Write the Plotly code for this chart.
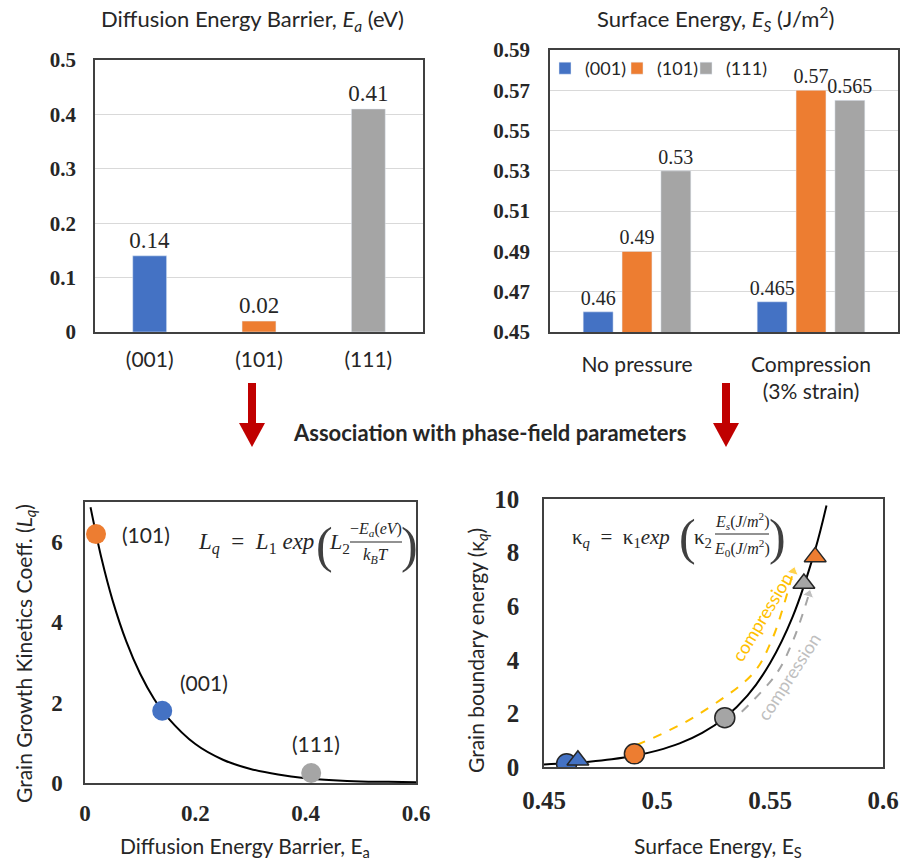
import plotly.graph_objects as go

W, H = 903, 866
def px(x): return x / W
def py(y): return 1 - y / H

SANS = "Lato"
SERIF = "Liberation Serif"
INK = "#262626"

# ---------------- data ----------------
facets = ["(001)", "(101)", "(111)"]
facet_colors = ["#4472C4", "#ED7D31", "#A5A5A5"]

# top-left: diffusion energy barrier (eV)
ea_values = [0.14, 0.02, 0.41]
ea_labels = ["0.14", "0.02", "0.41"]
ea_tickvals = [0, 0.1, 0.2, 0.3, 0.4, 0.5]
ea_ticktext = ["0", "0.1", "0.2", "0.3", "0.4", "0.5"]

# top-right: surface energy (J/m2)
conditions = ["No pressure", "Compression<br>(3% strain)"]
es_001 = [0.46, 0.465]
es_101 = [0.49, 0.57]
es_111 = [0.53, 0.565]
es_lab_001 = ["0.46", "0.465"]
es_lab_101 = ["0.49", "0.57"]
es_lab_111 = ["0.53", "0.565"]
es_tickvals = [0.45, 0.47, 0.49, 0.51, 0.53, 0.55, 0.57, 0.59]
es_ticktext = ["0.45", "0.47", "0.49", "0.51", "0.53", "0.55", "0.57", "0.59"]

# bottom-left: grain growth kinetics coefficient vs Ea
lq_points = [1.8, 6.2, 0.25]          # facet order (001),(101),(111)
lq_curve_ea = [0.01, 0.03, 0.05, 0.075, 0.1, 0.125, 0.15, 0.2, 0.25, 0.3,
               0.35, 0.4, 0.45, 0.5, 0.55, 0.6]
lq_curve_val = [6.87, 5.59, 4.55, 3.52, 2.72, 2.10, 1.63, 0.97, 0.58, 0.35,
                0.21, 0.12, 0.07, 0.04, 0.03, 0.02]
lq_tickvals = [0, 2, 4, 6]
lq_ticktext = ["0", "2", "4", "6"]
lqx_tickvals = [0, 0.2, 0.4, 0.6]
lqx_ticktext = ["0", "0.2", "0.4", "0.6"]

# bottom-right: grain boundary energy vs Es
kq_nopress = [0.12, 0.49, 1.84]       # circles, facet order
kq_comp = [0.25, 7.84, 6.85]          # triangles, facet order
kq_curve_es = [0.45, 0.46, 0.47, 0.48, 0.49, 0.50, 0.51, 0.52, 0.53, 0.54,
               0.55, 0.56, 0.57, 0.575]
kq_curve_val = [0.095, 0.138, 0.20, 0.29, 0.42, 0.61, 0.88, 1.27, 1.84, 2.66,
                3.87, 5.60, 8.11, 9.76]
comp101_es = [0.491, 0.505, 0.519, 0.5426, 0.5508, 0.5559, 0.5603]
comp101_kq = [0.82, 1.35, 2.0, 3.50, 4.74, 5.98, 7.30]
comp111_es = [0.5375, 0.553, 0.5603, 0.5655, 0.5672]
comp111_kq = [2.06, 3.50, 4.74, 5.98, 6.45]
kqx_tickvals = [0.45, 0.5, 0.55, 0.6]
kqx_ticktext = ["0.45", "0.5", "0.55", "0.6"]
kq_tickvals = [0, 2, 4, 6, 8, 10]
kq_ticktext = ["0", "2", "4", "6", "8", "10"]

# ---------------- figure ----------------
fig = go.Figure()

# top-left bars
fig.add_trace(go.Bar(x=facets, y=ea_values, text=ea_labels, textposition="outside",
                     constraintext="none",
                     marker=dict(color=facet_colors), width=0.31, showlegend=False,
                     textfont=dict(family=SERIF, size=23, color=INK), cliponaxis=False,
                     xaxis="x", yaxis="y"))

# top-right grouped bars, each with its own small legend box
legend_names = ["legend", "legend2", "legend3"]
for name, vals, labs, col, lg in zip(facets, [es_001, es_101, es_111],
                                     [es_lab_001, es_lab_101, es_lab_111], facet_colors,
                                     legend_names):
    fig.add_trace(go.Bar(x=conditions, y=vals, text=labs, textposition="outside", name=name,
                         constraintext="none", legend=lg,
                         marker=dict(color=col), cliponaxis=False,
                         textfont=dict(family=SERIF, size=20, color=INK),
                         xaxis="x2", yaxis="y2"))

# bottom-left
fig.add_trace(go.Scatter(x=lq_curve_ea, y=lq_curve_val, mode="lines",
                         line=dict(color="black", width=2, shape="spline"),
                         showlegend=False, xaxis="x3", yaxis="y3"))
fig.add_trace(go.Scatter(x=ea_values, y=lq_points, mode="markers",
                         marker=dict(color=facet_colors, size=20), showlegend=False,
                         xaxis="x3", yaxis="y3"))

# bottom-right
fig.add_trace(go.Scatter(x=comp101_es, y=comp101_kq, mode="lines+markers",
                         line=dict(color="#FFC000", width=2, dash="dash", shape="spline"),
                         marker=dict(symbol="triangle-up", angleref="previous", color="#FFC000",
                                     size=[0, 0, 0, 0, 0, 0, 10]),
                         showlegend=False, xaxis="x4", yaxis="y4"))
fig.add_trace(go.Scatter(x=comp111_es, y=comp111_kq, mode="lines+markers",
                         line=dict(color="#A5A5A5", width=2, dash="dash", shape="spline"),
                         marker=dict(symbol="triangle-up", angleref="previous", color="#A5A5A5",
                                     size=[0, 0, 0, 0, 10]),
                         showlegend=False, xaxis="x4", yaxis="y4"))
fig.add_trace(go.Scatter(x=kq_curve_es, y=kq_curve_val, mode="lines",
                         line=dict(color="black", width=2, shape="spline"),
                         showlegend=False, xaxis="x4", yaxis="y4"))
fig.add_trace(go.Scatter(x=[es_001[0], es_101[0], es_111[0]], y=kq_nopress, mode="markers",
                         marker=dict(color=facet_colors, size=20, line=dict(color=INK, width=1.5)),
                         showlegend=False, xaxis="x4", yaxis="y4"))
fig.add_trace(go.Scatter(x=[es_001[1], es_101[1], es_111[1]], y=kq_comp, mode="markers",
                         marker=dict(color=facet_colors, size=19, symbol="triangle-up",
                                     line=dict(color=INK, width=1.5)),
                         showlegend=False, xaxis="x4", yaxis="y4"))

frame = dict(showline=True, mirror=True, linecolor="#404040", linewidth=1.5, zeroline=False,
             automargin=False)
tickbold_l = dict(family=SERIF, size=21, color=INK, weight="bold")

legend_common = dict(orientation="h", y=py(50), xanchor="left", yanchor="top",
                     font=dict(family=SANS, size=18, color=INK), bgcolor="rgba(0,0,0,0)",
                     itemwidth=30)

fig.update_layout(
    width=W, height=H, margin=dict(l=0, r=0, t=0, b=0, autoexpand=False),
    paper_bgcolor="white", plot_bgcolor="white",
    barmode="group", bargap=0.33, bargroupgap=0.23,
    showlegend=True,
    legend=dict(x=px(545), **legend_common),
    legend2=dict(x=px(617), **legend_common),
    legend3=dict(x=px(686), **legend_common),
    xaxis=dict(domain=[px(95), px(423)], anchor="y", **frame, showgrid=False,
               tickfont=dict(family=SANS, size=21, color=INK),
               ticks="outside", ticklen=8, tickcolor="rgba(0,0,0,0)"),
    yaxis=dict(domain=[py(332), py(60)], anchor="x", **frame, range=[0, 0.5],
               tickvals=ea_tickvals, ticktext=ea_ticktext, showgrid=True, gridcolor="#D9D9D9", gridwidth=1,
               tickfont=tickbold_l, ticks="outside", ticklen=13, tickcolor="rgba(0,0,0,0)"),
    xaxis2=dict(domain=[px(550), px(898)], anchor="y2", **frame, showgrid=False,
                tickfont=dict(family=SANS, size=21, color=INK),
                ticks="outside", ticklen=13, tickcolor="rgba(0,0,0,0)"),
    yaxis2=dict(domain=[py(332), py(50)], anchor="x2", **frame, range=[0.45, 0.59],
                tickvals=es_tickvals, ticktext=es_ticktext, showgrid=True, gridcolor="#D9D9D9", gridwidth=1,
                tickfont=tickbold_l, ticks="outside", ticklen=14, tickcolor="rgba(0,0,0,0)"),
    xaxis3=dict(domain=[px(85), px(416)], anchor="y3", **frame, range=[0, 0.6],
                tickvals=lqx_tickvals, ticktext=lqx_ticktext, showgrid=False,
                tickfont=dict(family=SERIF, size=23, color=INK, weight="bold"),
                ticks="outside", ticklen=9, tickcolor="rgba(0,0,0,0)"),
    yaxis3=dict(domain=[py(783), py(502)], anchor="x3", **frame, range=[0, 7],
                tickvals=lq_tickvals, ticktext=lq_ticktext, showgrid=False,
                tickfont=dict(family=SERIF, size=23, color=INK, weight="bold"),
                ticks="outside", ticklen=16, tickcolor="rgba(0,0,0,0)"),
    xaxis4=dict(domain=[px(544), px(883)], anchor="y4", **frame, range=[0.45, 0.6],
                tickvals=kqx_tickvals, ticktext=kqx_ticktext, showgrid=False,
                tickfont=dict(family=SERIF, size=25, color=INK, weight="bold"),
                ticks="outside", ticklen=10, tickcolor="rgba(0,0,0,0)"),
    yaxis4=dict(domain=[py(767), py(499)], anchor="x4", **frame, range=[0, 10],
                tickvals=kq_tickvals, ticktext=kq_ticktext, showgrid=False,
                tickfont=dict(family=SERIF, size=25, color=INK, weight="bold"),
                ticks="outside", ticklen=18, tickcolor="rgba(0,0,0,0)"),
)

ann = []
def txt(x, y, text, size=19, family=SANS, xanchor="center", yanchor="middle", angle=0, color=INK, **kw):
    ann.append(dict(x=px(x), y=py(y), xref="paper", yref="paper", text=text, showarrow=False,
                    xanchor=xanchor, yanchor=yanchor, textangle=angle,
                    font=dict(family=family, size=size, color=color), **kw))

NB = "&nbsp;"
# titles
txt(252, 20, "Diffusion Energy Barrier, <i>E<sub>a</sub></i> (eV)", size=22)
txt(715, 19, "Surface Energy, <i>E<sub>S</sub></i> (J/m<sup>2</sup>)", size=22)
txt(489, 432, "<b>Association with phase-field parameters</b>", size=22)
# axis titles
txt(245, 847, "Diffusion Energy Barrier, E<sub>a</sub>", size=21)
txt(718, 847, "Surface Energy, E<sub>S</sub>", size=21)
txt(25, 654, "Grain Growth Kinetics Coeff. (<i>L<sub>q</sub></i>)", size=21, angle=-90)
txt(477, 651, "Grain boundary energy (κ<sub><i>q</i></sub>)", size=21, angle=-90)

# equation left
FR = 16
PAREN = dict(size=50, family=SERIF, color="#404040")
txt(256, 543, "<i>L<sub>q</sub></i>" + NB * 2 + "=" + NB * 2 + "<i>L</i><sub>1</sub>" + NB + "<i>exp</i>",
    size=23, family=SERIF)
txt(324, 545, "(", **PAREN)
txt(339, 543, "<i>L</i><sub>2</sub>", size=22, family=SERIF)
txt(376, 529, "−<i>E<sub>a</sub></i>(<i>eV</i>)", size=FR, family=SERIF)
txt(376, 556, "<i>k<sub>B</sub>T</i>", size=17, family=SERIF)
txt(409, 545, ")", **PAREN)
# equation right
txt(621, 538, "κ<sub><i>q</i></sub>" + NB * 2 + "=" + NB * 2 + "κ<sub>1</sub><i>exp</i>",
    size=21, family=SERIF)
txt(687, 537, "(", **PAREN)
txt(703, 538, "κ<sub>2</sub>", size=21, family=SERIF)
txt(742, 521, "<i>E<sub>s</sub></i>(<i>J</i>/<i>m</i><sup>2</sup>)", size=FR, family=SERIF)
txt(742, 548, "<i>E</i><sub>0</sub>(<i>J</i>/<i>m</i><sup>2</sup>)", size=FR, family=SERIF)
txt(777, 537, ")", **PAREN)

# point labels (bottom-left), anchored on data points
for f, xv, yv, dx, dy in zip(facets, ea_values, lq_points, [42, 50, 5], [28, 0, 29]):
    ann.append(dict(x=xv, y=yv, xref="x3", yref="y3", text=f, showarrow=False,
                    xshift=dx, yshift=dy, font=dict(family=SANS, size=21, color=INK)))

# compression labels
ann.append(dict(x=0.5463, y=5.61, xref="x4", yref="y4", text="compression", showarrow=False,
                textangle=-59, font=dict(family=SANS, size=18, color="#FFC000")))
ann.append(dict(x=0.5581, y=3.37, xref="x4", yref="y4", text="compression", showarrow=False,
                textangle=-57, font=dict(family=SANS, size=18, color="#BFBFBF")))

fig.update_layout(annotations=ann)

shapes = []
# fraction bars
shapes.append(dict(type="line", xref="paper", yref="paper", x0=px(350), x1=px(402), y0=py(542), y1=py(542),
                   line=dict(color=INK, width=1.2)))
shapes.append(dict(type="line", xref="paper", yref="paper", x0=px(715), x1=px(769), y0=py(534), y1=py(534),
                   line=dict(color=INK, width=1.2)))
# red arrows
for cx in (252, 726):
    shapes.append(dict(type="rect", xref="paper", yref="paper", x0=px(cx - 4), x1=px(cx + 4),
                       y0=py(424), y1=py(383), fillcolor="#C00000", line=dict(width=0)))
    path = "M {:.5f},{:.5f} L {:.5f},{:.5f} L {:.5f},{:.5f} Z".format(
        px(cx - 13), py(423), px(cx + 13), py(423), px(cx), py(447))
    shapes.append(dict(type="path", xref="paper", yref="paper", path=path,
                       fillcolor="#C00000", line=dict(width=0)))
fig.update_layout(shapes=shapes)

fig.write_html("out.html", config={"displayModeBar": False},
               post_script="document.body.style.margin='0px';document.body.style.overflow='hidden';")
